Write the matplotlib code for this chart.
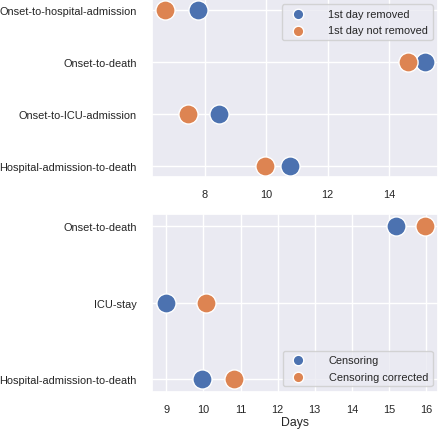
import matplotlib
matplotlib.use("Agg")
import matplotlib.pyplot as plt
import seaborn as sns

sns.set_theme(style="darkgrid")
plt.rcParams['font.family'] = ['Liberation Sans', 'DejaVu Sans']

top_cats = ["Onset-to-hospital-admission", "Onset-to-death", "Onset-to-ICU-admission", "Hospital-admission-to-death"]
top_removed = [7.78, 15.17, 8.46, 10.77]
top_not_removed = [6.70, 14.61, 7.46, 9.96]

bot_cats = ["Onset-to-death", "ICU-stay", "Hospital-admission-to-death"]
bot_censoring = [15.2, 9.0, 9.96]
bot_corrected = [15.98, 10.07, 10.83]

blue, orange = sns.color_palette()[0], sns.color_palette()[1]

W, H = 440, 431
fig = plt.figure(figsize=(W/100, H/100), dpi=100)
ax1 = fig.add_axes([152/W, (H-178)/H, 286/W, 178/H])
ax2 = fig.add_axes([152/W, (H-392.7)/H, 286/W, 177.7/H])

fs = 7.9
s = 190
ax1.scatter(top_removed, top_cats, s=s, color=blue, edgecolor='white', linewidth=1, label="1st day removed", zorder=3)
ax1.scatter(top_not_removed, top_cats, s=s, color=orange, edgecolor='white', linewidth=1, label="1st day not removed", zorder=3)
ax1.set_xlim(6.27, 15.6)
ax1.set_ylim(3.22, -0.22)
ax1.set_xticks([8, 10, 12, 14])
ax1.legend(loc='upper right', fontsize=fs, markerscale=0.55, handletextpad=1.8,
           borderaxespad=0.5, labelspacing=0.6)

ax2.scatter(bot_censoring, bot_cats, s=s, color=blue, edgecolor='white', linewidth=1, label="Censoring", zorder=3)
ax2.scatter(bot_corrected, bot_cats, s=s, color=orange, edgecolor='white', linewidth=1, label="Censoring corrected", zorder=3)
ax2.set_xlim(8.615, 16.32)
ax2.set_ylim(2.16, -0.16)
ax2.set_xticks(range(9, 17))
ax2.set_xlabel("Days", fontsize=8.8, labelpad=1)
ax2.legend(loc='lower right', fontsize=fs, markerscale=0.55, handletextpad=1.8,
           borderaxespad=0.5, labelspacing=0.6)

for ax in (ax1, ax2):
    ax.tick_params(axis='y', labelsize=fs, pad=5)
    ax.tick_params(axis='x', labelsize=fs, pad=3)

fig.savefig("out.png", dpi=100)
